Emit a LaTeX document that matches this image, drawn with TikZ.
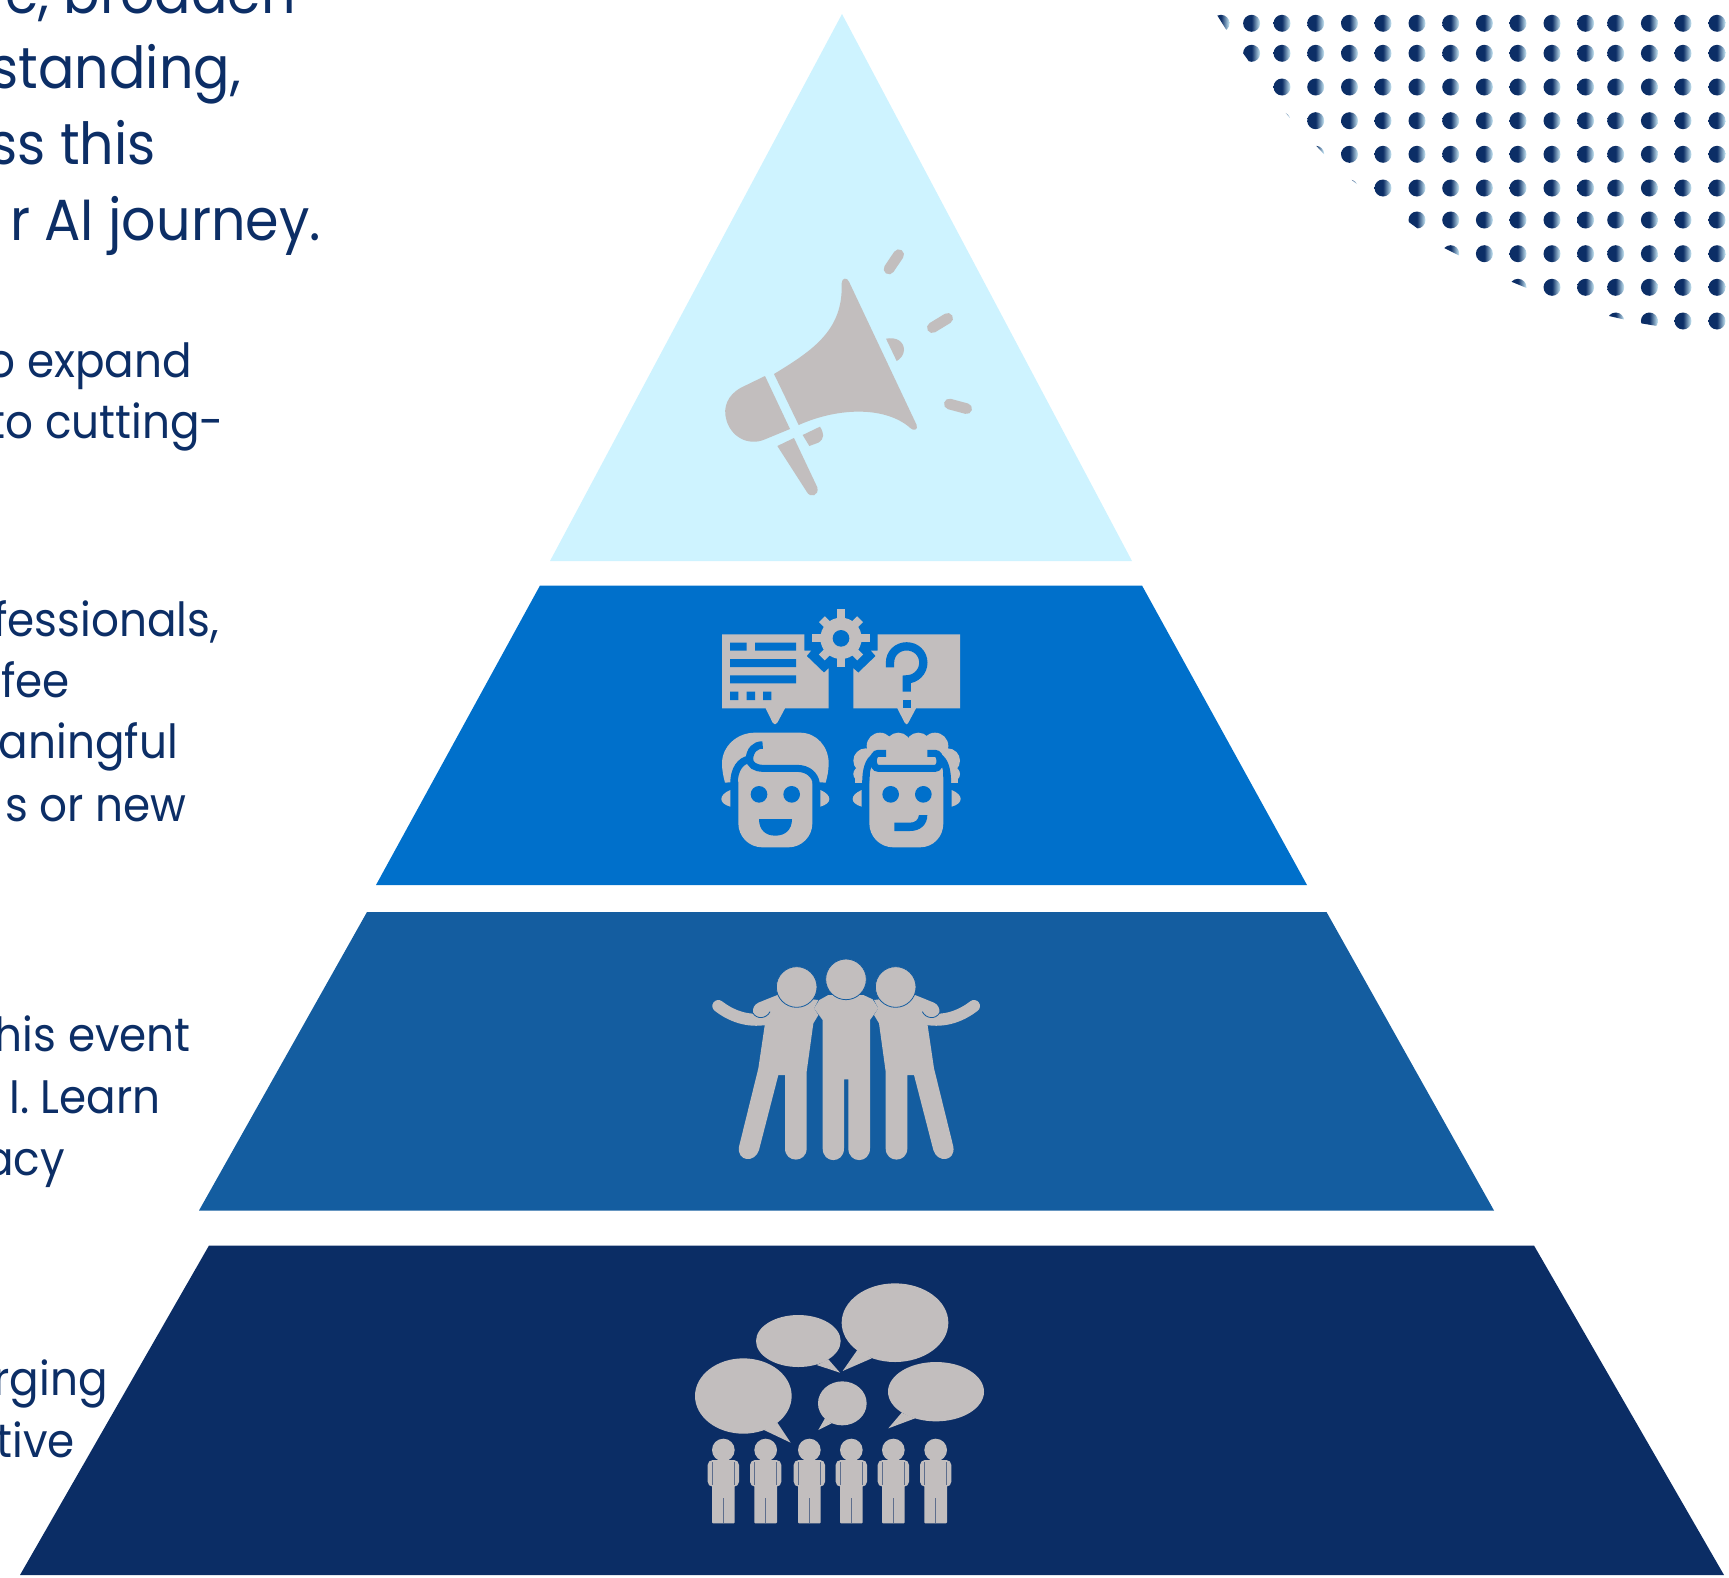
\documentclass[tikz,border=0pt]{standalone}
\usepackage{fontspec}
\setmainfont{Poppins}
\definecolor{inkblue}{HTML}{0C2E66}
\definecolor{tierA}{HTML}{CEF3FF}
\definecolor{tierB}{HTML}{0070CB}
\definecolor{tierC}{HTML}{145DA0}
\definecolor{tierD}{HTML}{0B2D65}
\definecolor{icongray}{HTML}{C2BEBE}
\definecolor{dotlight}{HTML}{CFEFFA}
\pgfdeclarehorizontalshading{dotfade}{100bp}{color(0bp)=(inkblue); color(50bp)=(inkblue); color(75bp)=(dotlight); color(100bp)=(dotlight)}
\tikzset{
  tier/.style={draw=none},
  zoomed/.style={x=0.33333pt,y=-0.33333pt},
  icon/.style={fill=icongray,draw=none},
  bigtxt/.style={anchor=base east,inner sep=0pt,text=inkblue,font=\fontsize{58}{68}\selectfont},
  smalltxt/.style={anchor=base east,inner sep=0pt,text=inkblue,font=\fontsize{47}{55}\selectfont},
}
\newcommand\lineA[5]{\node[#1] (#2) at (#3+3,#4+1.5) {\scalebox{0.93}[1]{#5}};}
\newcommand\fadedot[2]{\shade[shading=dotfade] (#1,#2) circle[radius=8.5];}
\newcommand\crowdman[1]{%
  \fill[icon,rounded corners=5pt] (#1-47,570) rectangle (#1+47,650);
  \fill[icon,rounded corners=1pt] (#1-34,570) rectangle (#1+34,760);
  \fill[icon] (#1,540) circle[radius=34];
  \draw[tierD!55!icongray,line width=.7pt] (#1-33,576)--(#1-33,645) (#1+33,576)--(#1+33,645) (#1,685)--(#1,760);
}
\newcommand\hugman{%
  \draw[icongray,line width=12pt,line cap=round] (85,198) .. controls (120,225) and (170,248) .. (232,236);
  \fill[icon] (225,250) -- (205,385) -- (147,620) .. controls (140,665) and (195,670) .. (207,630) -- (265,405) -- (285,405) -- (285,625) .. controls (285,670) and (350,670) .. (350,625) -- (350,395) -- (370,250) -- (385,225) -- (372,205) -- (385,180) -- (262,165) -- (205,188) .. controls (180,200) and (185,235) .. (212,236) .. controls (225,236) and (235,225) .. (240,215) -- cycle;
  \draw[tierC,line width=.8pt] (188,218) .. controls (200,240) and (230,236) .. (240,215);
}
\begin{document}
\begin{tikzpicture}[x=1pt,y=-1pt]
\useasboundingbox (0,0) rectangle (1729,1577);
\clip (0,0) rectangle (1729,1577);
% pyramid
\fill[tierA,tier] (842,14) -- (1132,561) -- (550,561) -- cycle;
\fill[tierB,tier] (540,585.5) -- (1142,585.5) -- (1307,885) -- (376,885) -- cycle;
\fill[tierC,tier] (367,912) -- (1326.5,912) -- (1494,1210.5) -- (199,1210.5) -- cycle;
\fill[tierD,tier] (209,1245.5) -- (1534,1245.5) -- (1724,1575) -- (20,1575) -- cycle;
% text
\lineA{bigtxt}{t1}{293}{12}{e, broaden}
\lineA{bigtxt}{t2}{238}{87}{standing,}
\lineA{bigtxt}{t3}{153}{163}{ss this}
\lineA{bigtxt}{t4}{318}{239}{r AI journey.}
\lineA{smalltxt}{t5}{189}{376}{o expand}
\lineA{smalltxt}{t6}{221}{437}{to cutting-}
\lineA{smalltxt}{t7}{216}{634.5}{fessionals,}
\lineA{smalltxt}{t8}{67}{696}{fee}
\lineA{smalltxt}{t9}{175}{757}{aningful}
\lineA{smalltxt}{t10}{184}{820}{s or new}
\lineA{smalltxt}{t11}{188}{1050}{his event}
\lineA{smalltxt}{t12}{158}{1112}{I. Learn}
\lineA{smalltxt}{t13}{62}{1174}{acy}
\lineA{smalltxt}{t14}{105}{1394}{rging}
\lineA{smalltxt}{t15}{72}{1456}{tive}
% dots
\begin{scope}
\clip (1217,15) -- (1225.3,28.3) -- (1286,113.3) -- (1289.4,117.3) -- (1316.4,146) -- (1323.8,154) -- (1351.8,180) -- (1356.9,184) -- (1444.6,248.3) -- (1458.8,255.3) -- (1511.4,281.7) -- (1526.6,288) -- (1609,316) -- (1623.4,319.3) -- (1641,323.3) -- (1657,326) -- (1729,336) -- (1729,0) -- (1200,0) -- cycle;
\foreach \ry in {23.3,53.3,87,120.7,154.3,188,220,253.7,287.3,321}{
  \foreach \cx in {1221,1251.6,1282,1315.7,1349.5,1383,1417,1450.7,1484.4,1518,1552,1585.6,1615.7,1649.4,1683,1717}{
    \fadedot{\cx}{\ry}
  }
}
\end{scope}
% megaphone
\begin{scope}[shift={(700,230)},zoomed]
\fill[icon] (222,432) .. controls (340,360) and (430,300) .. (425,160) .. controls (425,142) and (442,142) .. (447,155) -- (650,585) .. controls (655,600) and (640,603) .. (632,595) .. controls (560,530) and (420,530) .. (296,585) -- cycle;
\fill[icon] (195,438) -- (125,472) .. controls (80,495) and (70,535) .. (78,565) .. controls (90,620) and (145,650) .. (195,628) -- (270,597) -- cycle;
\fill[icon] (232,648) -- (282,624) -- (352,772) .. controls (358,798) and (330,805) .. (320,785) -- cycle;
\fill[icon] (308,615) -- (360,590) .. controls (372,610) and (375,625) .. (355,638) -- (328,648) -- cycle;
\fill[icon] (558,326) .. controls (590,320) and (612,335) .. (612,360) .. controls (612,375) and (600,388) .. (590,393) -- cycle;
\draw[icongray,line width=10.7pt,line cap=round] (567,117) -- (596,74) (697,293) -- (743,265) (748,522) -- (800,536);
\end{scope}
% two faces
\begin{scope}[shift={(700,600)},zoomed]
\fill[icon] (66,103) -- (313,103) -- (313,152) -- (333,152) -- (320,168) -- (372,218) -- (386,205) -- (386,325) -- (255,325) -- (232,368) -- (225,373) -- (218,368) -- (197,325) -- (66,325) -- cycle;
\fill[tierB] (90,128) rectangle (140,152) (165,128) rectangle (288,152) (90,177) rectangle (288,201) (90,226) rectangle (288,250) (90,275) rectangle (115,300) (140,275) rectangle (165,300) (189,275) rectangle (214,300);
\fill[icon] (533,103) -- (780,103) -- (780,325) -- (648,325) -- (625,368) -- (620,373) -- (614,368) -- (592,325) -- (460,325) -- (460,205) -- (475,218) -- (527,168) -- (513,152) -- (533,152) -- cycle;
\draw[tierB,line width=8.3pt] (570,202) -- (570,188) .. controls (570,160) and (592,139) .. (620,139) .. controls (648,139) and (670,160) .. (670,188) .. controls (670,215) and (648,238) .. (620,238) -- (620,275);
\fill[tierB] (608,300) rectangle (633,325);
\begin{scope}[shift={(423,115)}]
\fill[icon] (0,0) circle[radius=62];
\foreach \a in {0,90,180,270}{\draw[icongray,line width=8.3pt] (\a:50) -- (\a:87);}
\foreach \a in {45,135,225,315}{\draw[icongray,line width=8.3pt] (\a:50) -- (\a:81);}
\fill[tierB] (0,0) circle[radius=25];
\end{scope}
% left face
\fill[icon] (75,548) .. controls (70,530) and (66,510) .. (66,490) .. controls (66,440) and (110,398) .. (165,398) -- (300,398) .. controls (350,398) and (386,440) .. (386,490) .. controls (386,510) and (382,530) .. (377,548) -- (337,545) -- (337,670) .. controls (337,710) and (305,742) .. (265,742) -- (187,742) .. controls (147,742) and (115,710) .. (115,670) -- (115,545) -- cycle;
\draw[tierB,line width=7.5pt] (188,435) .. controls (165,435) and (150,450) .. (148,478) .. controls (120,482) and (102,510) .. (102,550);
\draw[tierB,line width=7pt] (148,476) .. controls (150,495) and (165,505) .. (190,505) -- (290,505) .. controls (325,505) and (345,525) .. (349,550);
\fill[tierB] (177,583) circle[radius=25] (275,583) circle[radius=25];
\fill[tierB] (177,657) -- (276,657) .. controls (276,690) and (255,707) .. (226,707) .. controls (197,707) and (177,690) .. (177,657) -- cycle;
\fill[icon] (91,570) .. controls (55,585) and (55,610) .. (91,620) -- cycle;
\fill[icon] (361,570) .. controls (397,585) and (397,610) .. (361,620) -- cycle;
% right face
\foreach \hx/\hy/\hr in {540/438/40,595/436/38,655/436/38,705/438/40,497/482/37,743/482/37,482/522/22,758/522/22}{
  \fill[icon] (\hx,\hy) circle[radius=\hr];
}
\fill[icon] (466,525) rectangle (490,548);
\fill[icon] (750,525) rectangle (775,548);
\fill[icon] (510,430) rectangle (730,545);
\fill[icon] (508,530) -- (508,670) .. controls (508,710) and (540,742) .. (580,742) -- (660,742) .. controls (700,742) and (730,710) .. (730,670) -- (730,530) -- cycle;
\draw[tierB,line width=7pt] (558,460) -- (535,460) .. controls (515,460) and (515,505) .. (535,505) -- (705,505) .. controls (725,505) and (725,460) .. (705,460) -- (682,460);
\draw[tierB,line width=7pt] (525,470) .. controls (505,480) and (497,510) .. (497,550);
\draw[tierB,line width=7pt] (715,470) .. controls (735,480) and (743,510) .. (743,550);
\fill[tierB] (572,583) circle[radius=25] (670,583) circle[radius=25];
\fill[tierB] (583,668) -- (630,668) .. controls (645,668) and (655,660) .. (657,645) -- (682,645) .. controls (682,675) and (660,693) .. (630,693) -- (583,693) -- cycle;
\fill[icon] (485,570) .. controls (449,585) and (449,610) .. (485,620) -- cycle;
\fill[icon] (755,570) .. controls (791,585) and (791,610) .. (755,620) -- cycle;
\end{scope}
% three friends
\begin{scope}[shift={(690,940)},zoomed]
\fill[icon] (372,205) -- (388,180) -- (415,165) -- (520,165) -- (548,178) -- (565,205) -- (540,240) -- (540,625) .. controls (540,672) and (475,672) .. (475,625) -- (475,418) -- (462,418) -- (462,625) .. controls (462,672) and (398,672) .. (398,625) -- (398,240) -- cycle;
\hugman
\begin{scope}[shift={(937,0)},x=-0.33333pt]
\hugman
\end{scope}
\foreach \hx/\hy in {320/141,468/118,617/141}{
  \fill[icon,draw=tierC,line width=.8pt] (\hx,\hy) circle[radius=61];
}
\end{scope}
% crowd
\begin{scope}[shift={(680,1270)},zoomed]
\fill[icon] (190,378) ellipse[x radius=145,y radius=113];
\fill[icon] (292,458) -- (332,518) -- (252,480) -- cycle;
\fill[icon] (355,213) ellipse[x radius=127,y radius=78];
\fill[icon] (445,268) -- (480,308) -- (410,285) -- cycle;
\fill[icon] (645,158) ellipse[x radius=160,y radius=118];
\fill[icon] (532,240) -- (488,303) -- (575,265) -- cycle;
\fill[icon] (487,400) ellipse[x radius=73,y radius=66];
\fill[icon] (435,445) -- (415,480) -- (455,460) -- cycle;
\fill[icon] (768,365) ellipse[x radius=144,y radius=89];
\fill[icon] (665,428) -- (625,475) -- (705,445) -- cycle;
\crowdman{130}\crowdman{257}\crowdman{388}\crowdman{514}\crowdman{640}\crowdman{767}
\end{scope}
\end{tikzpicture}
\end{document}
